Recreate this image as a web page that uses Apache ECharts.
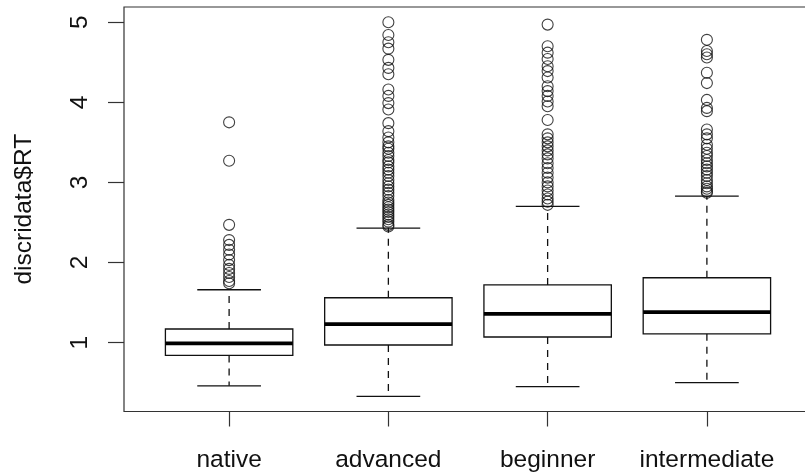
<!DOCTYPE html>
<html>
<head>
<meta charset="utf-8">
<script src="https://cdn.jsdelivr.net/npm/echarts@6/dist/echarts.min.js"></script>
<style>
html,body{margin:0;padding:0;background:#fff;}
#chart{width:805px;height:474px;}
</style>
</head>
<body>
<div id="chart"></div>
<script>
// ---- data ----
const categories = ['native', 'advanced', 'beginner', 'intermediate'];
const lowerWhisker = [0.46, 0.33, 0.45, 0.50];
const q1 = [0.84, 0.97, 1.07, 1.11];
const median = [0.99, 1.23, 1.36, 1.38];
const q3 = [1.17, 1.56, 1.72, 1.81];
const upperWhisker = [1.66, 2.43, 2.70, 2.83];
const outliersNative = [3.75, 3.27, 2.47, 2.28, 2.22, 2.16, 2.10, 2.03, 1.97, 1.92, 1.87, 1.82, 1.77, 1.74];
const outliersAdvanced = [5.00, 4.84, 4.75, 4.67, 4.53, 4.43, 4.35, 4.16, 4.08, 3.99, 3.91, 3.74, 3.64, 3.56,
  3.50, 3.45, 3.42, 3.37, 3.33, 3.28, 3.25, 3.20, 3.16, 3.12, 3.08, 3.03, 2.99, 2.95, 2.91, 2.87, 2.83,
  2.78, 2.75, 2.72, 2.69, 2.66, 2.63, 2.60, 2.57, 2.54, 2.51, 2.47, 2.45];
const outliersBeginner = [4.97, 4.70, 4.62, 4.54, 4.45, 4.39, 4.31, 4.20, 4.14, 4.08, 4.01, 3.95, 3.78,
  3.60, 3.55, 3.50, 3.45, 3.40, 3.35, 3.30, 3.24, 3.18, 3.12, 3.06, 3.00, 2.95, 2.90, 2.85, 2.80, 2.76, 2.72];
const outliersIntermediate = [4.78, 4.64, 4.60, 4.56, 4.37, 4.24, 4.03, 3.93, 3.89, 3.66, 3.60, 3.55, 3.47,
  3.42, 3.37, 3.33, 3.28, 3.24, 3.20, 3.16, 3.12, 3.08, 3.03, 2.99, 2.95, 2.92, 2.89, 2.87];
const yTicks = [1, 2, 3, 4, 5];
const yAxisTitle = 'discridata$RT';

// ---- build ----
const outlierGroups = [outliersNative, outliersAdvanced, outliersBeginner, outliersIntermediate];
const boxData = categories.map((c, i) => [i + 1, lowerWhisker[i], q1[i], median[i], q3[i], upperWhisker[i]]);
const outlierData = [];
outlierGroups.forEach((arr, i) => arr.forEach(v => outlierData.push([i + 1, v])));
const xTickValues = categories.map((c, i) => i + 1);

const LINE = '#111';
const FONT = 'Liberation Sans, Arial, sans-serif';
const chart = echarts.init(document.getElementById('chart'), null, {renderer: 'canvas'});
chart.setOption({
  animation: false,
  backgroundColor: '#fff',
  grid: {
    left: 124, width: 688, top: 7, height: 404.5,
    outerBoundsMode: 'none', containLabel: false,
    show: true, borderColor: '#333', borderWidth: 1.2, backgroundColor: 'transparent'
  },
  xAxis: {
    type: 'value', min: 0.34, max: 4.66,
    axisLine: {show: false},
    splitLine: {show: false},
    axisTick: {show: true, customValues: xTickValues, length: 15, lineStyle: {color: '#333', width: 1.2}},
    axisLabel: {
      customValues: xTickValues, margin: 36, fontSize: 24.5, color: '#111', fontFamily: FONT,
      formatter: v => categories[Math.round(v) - 1] || ''
    }
  },
  yAxis: {
    type: 'value', min: 0.14, max: 5.19,
    name: yAxisTitle, nameLocation: 'middle', nameRotate: 90, nameGap: 87,
    nameTextStyle: {fontSize: 24.5, color: '#111', fontFamily: FONT},
    axisLine: {show: false},
    splitLine: {show: false},
    axisTick: {show: true, customValues: yTicks, length: 16, lineStyle: {color: '#333', width: 1.2}},
    axisLabel: {customValues: yTicks, rotate: 90, margin: 31, fontSize: 24.5, color: '#111', fontFamily: FONT}
  },
  series: [
    {
      type: 'custom',
      data: boxData,
      encode: {x: 0, y: [1, 2, 3, 4, 5]},
      renderItem: function (params, api) {
        const x = api.value(0);
        const lo = api.value(1), a = api.value(2), m = api.value(3), b = api.value(4), hi = api.value(5);
        const hb = 0.4, hs = 0.2;
        const c = (xv, yv) => api.coord([xv, yv]);
        const pLoL = c(x - hs, lo), pLoR = c(x + hs, lo);
        const pHiL = c(x - hs, hi), pHiR = c(x + hs, hi);
        const pQ1L = c(x - hb, a), pQ3R = c(x + hb, b);
        const pML = c(x - hb, m), pMR = c(x + hb, m);
        const pC_lo = c(x, lo), pC_a = c(x, a), pC_b = c(x, b), pC_hi = c(x, hi);
        const solid = {stroke: LINE, lineWidth: 1.3, fill: null};
        const dashed = {stroke: LINE, lineWidth: 1.3, lineDash: [7, 6]};
        return {
          type: 'group',
          children: [
            {type: 'line', shape: {x1: pC_b[0], y1: pC_b[1], x2: pC_hi[0], y2: pC_hi[1]}, style: dashed},
            {type: 'line', shape: {x1: pC_a[0], y1: pC_a[1], x2: pC_lo[0], y2: pC_lo[1]}, style: dashed},
            {type: 'line', shape: {x1: pHiL[0], y1: pHiL[1], x2: pHiR[0], y2: pHiR[1]}, style: solid},
            {type: 'line', shape: {x1: pLoL[0], y1: pLoL[1], x2: pLoR[0], y2: pLoR[1]}, style: solid},
            {type: 'rect', shape: {x: pQ1L[0], y: pQ3R[1], width: pQ3R[0] - pQ1L[0], height: pQ1L[1] - pQ3R[1]},
              style: {stroke: LINE, lineWidth: 1.3, fill: '#fff'}},
            {type: 'line', shape: {x1: pML[0], y1: pML[1], x2: pMR[0], y2: pMR[1]}, style: {stroke: '#000', lineWidth: 3.8}}
          ]
        };
      },
      z: 2
    },
    {
      type: 'scatter',
      data: outlierData,
      symbol: 'circle',
      symbolSize: 11,
      itemStyle: {color: 'transparent', borderColor: LINE, borderWidth: 1.1},
      z: 3
    }
  ]
});
</script>
</body>
</html>
